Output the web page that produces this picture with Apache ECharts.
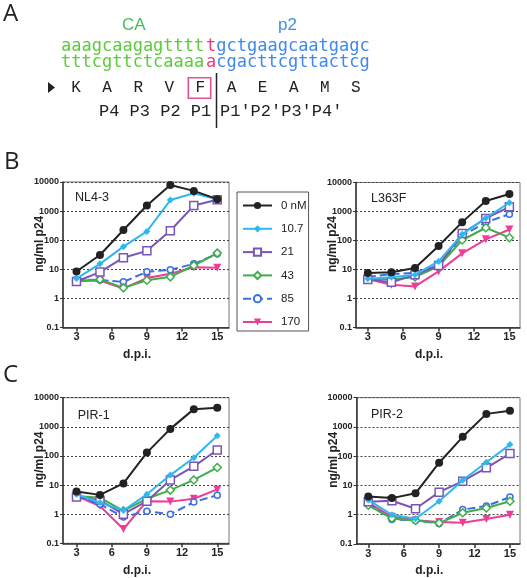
<!DOCTYPE html>
<html>
<head>
<meta charset="utf-8">
<script src="https://cdn.jsdelivr.net/npm/echarts@6/dist/echarts.min.js"></script>
<style>
html,body{margin:0;padding:0;background:#fff;}
#chart{width:527px;height:578px;}
</style>
</head>
<body>
<div id="chart"></div>
<script>
// ---- data ----
const days = [3, 5, 7, 9, 11, 13, 15];
const concLabels = ['0 nM', '10.7', '21', '43', '85', '170'];
const xTickValues = [3, 6, 9, 12, 15];
const panelNames = ['NL4-3', 'L363F', 'PIR-1', 'PIR-2'];

const nl43_0   = [8.4, 31, 224, 1550, 7900, 4950, 2570];
const nl43_10  = [4.8, 15.4, 60, 200, 2400, 4100, 2570];
const nl43_21  = [3.8, 8, 25, 43, 212, 1550, 2450];
const nl43_43  = [4.0, 4.5, 2.3, 4.2, 5.5, 13.5, 36];
const nl43_85  = [4.5, 4.3, 3.7, 8.2, 9.6, 15.4, 34];
const nl43_170 = [4.0, 4.1, 2.2, 5.0, 7.0, 11.8, 11.2];

const l363f_0   = [7.6, 8, 11.2, 65, 430, 2300, 4000];
const l363f_10  = [4.8, 5.4, 6.6, 19, 163, 600, 2000];
const l363f_21  = [4.5, 3.6, 6.6, 13.8, 175, 575, 1450];
const l363f_43  = [4.8, 4.5, 5.5, 12.8, 104, 275, 125];
const l363f_85  = [5.5, 7, 7.6, 13.8, 146, 420, 810];
const l363f_170 = [4.7, 3.0, 2.6, 8.6, 36, 110, 240];

const pir1_0   = [6, 4.6, 11.4, 130, 850, 4050, 4550];
const pir1_10  = [4.8, 2.5, 1.34, 4.8, 22, 87, 490];
const pir1_21  = [3.9, 3.0, 1.0, 2.8, 15, 44, 160];
const pir1_43  = [4.2, 3.7, 1.3, 3.4, 6.7, 15, 40];
const pir1_85  = [4.2, 2.2, 0.8, 1.27, 1.0, 2.6, 4.5];
const pir1_170 = [4.2, 1.9, 0.31, 2.8, 2.7, 3.4, 7.1];

const pir2_0   = [4.2, 3.7, 5.4, 60, 460, 2800, 3550];
const pir2_10  = [3.2, 1.0, 0.73, 2.9, 15, 62, 250];
const pir2_21  = [2.8, 3.0, 1.6, 5.9, 14, 40, 123];
const pir2_43  = [2.1, 0.75, 0.64, 0.52, 1.17, 1.7, 2.9];
const pir2_85  = [2.4, 0.69, 0.64, 0.5, 1.5, 2.0, 4.0];
const pir2_170 = [2.6, 0.85, 0.65, 0.56, 0.53, 0.72, 1.0];

const panelData = [
  [nl43_0, nl43_10, nl43_21, nl43_43, nl43_85, nl43_170],
  [l363f_0, l363f_10, l363f_21, l363f_43, l363f_85, l363f_170],
  [pir1_0, pir1_10, pir1_21, pir1_43, pir1_85, pir1_170],
  [pir2_0, pir2_10, pir2_21, pir2_43, pir2_85, pir2_170]
];

// ---- styles ----
const seriesStyle = [
  {color:'#222222', symbol:'circle', size:8, fill:'#222222', dash:'solid', rot:0},
  {color:'#2fb8ee', symbol:'diamond', size:7, fill:'#2fb8ee', dash:'solid', rot:0},
  {color:'#7a55b8', symbol:'rect', size:8, fill:'#ffffff', dash:'solid', rot:0},
  {color:'#3fae4a', symbol:'diamond', size:8, fill:'#ffffff', dash:'solid', rot:0},
  {color:'#3a6fe6', symbol:'circle', size:6, fill:'#ffffff', dash:'dashed', rot:0},
  {color:'#ee3d96', symbol:'triangle', size:8, fill:'#ee3d96', dash:'solid', rot:180}
];

const grids = [
  {left:63, top:182, width:166, height:145.5},
  {left:356, top:182.5, width:164, height:145},
  {left:63, top:397.7, width:166, height:145.6},
  {left:356.5, top:397.7, width:163.5, height:146.3}
];
const xRanges = [[1.85, 16], [2.0, 15.9], [1.85, 16], [2.0, 15.85]];
const titlePos = [[70, 194], [366, 194.7], [72.7, 412], [366, 411]];

const option = {
  animation:false,
  backgroundColor:'#fff',
  grid: grids.map(g => Object.assign({show:true, borderColor:'#777', borderWidth:1, containLabel:false}, g)),
  xAxis: grids.map((g,i) => ({
    type:'value', gridIndex:i, min:xRanges[i][0], max:xRanges[i][1],
    name:'d.p.i.', nameLocation:'middle', nameGap:21,
    nameTextStyle:{fontFamily:'Liberation Sans', fontWeight:'bold', fontSize:12, color:'#222', padding:[0,18,0,0]},
    axisLine:{show:true, onZero:false, lineStyle:{color:'#333', width:1.5}},
    axisTick:{show:true, length:4, customValues:xTickValues, lineStyle:{color:'#333', width:1.5}},
    axisLabel:{customValues:xTickValues, margin:4, fontFamily:'Liberation Sans', fontWeight:'bold', fontSize:11, color:'#222'},
    splitLine:{show:false}
  })),
  yAxis: grids.map((g,i) => ({
    type:'log', logBase:10, gridIndex:i, min:0.1, max:10000,
    name:'ng/ml p24', nameLocation:'middle', nameGap:17, nameMoveOverlap:false,
    nameTextStyle:{fontFamily:'Liberation Sans', fontWeight:'bold', fontSize:12, color:'#222', padding:[0,0,0,22]},
    axisLine:{show:true, lineStyle:{color:'#333', width:1.5}},
    axisTick:{show:true, length:3, lineStyle:{color:'#333', width:1}},
    axisLabel:{margin:4, fontFamily:'Liberation Sans', fontWeight:'bold', fontSize:9, color:'#222',
      formatter: v => v < 1 ? '0.1' : String(Math.round(v))},
    splitLine:{show:true, lineStyle:{type:[2,2], color:'#444', width:1}}
  })),
  title: panelNames.map((n,i) => ({
    text:n, left:titlePos[i][0], top:titlePos[i][1]-8,
    textStyle:{fontFamily:'Liberation Sans', fontWeight:'normal', fontSize:12.5, color:'#222'}
  })),
  legend: {
    orient:'vertical', left:237, top:192,
    data: concLabels,
    itemWidth:29, itemHeight:9, itemGap:11.3,
    padding:[7.5,2,3,5],
    borderColor:'#555', borderWidth:1,
    textStyle:{fontFamily:'Liberation Sans', fontSize:11.5, color:'#222', padding:[0,0,0,4]},
    selectedMode:false
  },
  series: [],
  graphic: []
};

for (let p = 0; p < panelData.length; p++) {
  for (let k = concLabels.length - 1; k >= 0; k--) {
    const st = seriesStyle[k];
    option.series.push({
      type:'line', name:concLabels[k], xAxisIndex:p, yAxisIndex:p,
      data: days.map((d, i) => [d, panelData[p][k][i]]),
      symbol: st.symbol, symbolSize: st.size, symbolRotate: st.rot,
      showAllSymbol:true,
      lineStyle:{color:st.color, width:2, type:st.dash},
      itemStyle:{color:st.fill, borderColor:st.color, borderWidth: st.fill === '#ffffff' ? 1.5 : 0},
      z: 10 - k
    });
  }
}

// ---- panel A (sequence diagram) ----
const seqTop_green = 'aaagcaagagtttt';
const seqTop_pink = 't';
const seqTop_blue = 'gctgaagcaatgagc';
const seqBot_green = 'tttcgttctcaaaa';
const seqBot_pink = 'a';
const seqBot_blue = 'cgacttcgttactcg';
const aminoAcids = ['K','A','R','V','F','A','E','A','M','S'];
const pLabelsLeft = "P4 P3 P2 P1";
const pLabelsRight = "P1'P2'P3'P4'";

const pitch = 10.35;
const seqX0 = 61;
const mono = {fontFamily:'DejaVu Sans Mono', fontSize:17};
const cGreen = '#5ccb3d', cBlue = '#3f88ee', cPink = '#e83c80';
function seqText(str, x, y, color) {
  return {type:'text', left:x, top:y, style:Object.assign({text:str, fill:color}, mono)};
}
const g = option.graphic;
g.push({type:'text', left:3, top:2, style:{text:'A', fill:'#222', fontFamily:'Open Sans', fontSize:24}});
g.push({type:'text', left:4, top:150, style:{text:'B', fill:'#222', fontFamily:'Open Sans', fontSize:24}});
g.push({type:'text', left:3, top:363, style:{text:'C', fill:'#222', fontFamily:'Open Sans', fontSize:24}});
g.push({type:'text', left:122, top:17, style:{text:'CA', fill:'#48bb58', fontFamily:'Liberation Sans', fontSize:17}});
g.push({type:'text', left:278, top:17, style:{text:'p2', fill:'#3f8fe8', fontFamily:'Liberation Sans', fontSize:17}});
g.push(seqText(seqTop_green, seqX0, 38, cGreen));
g.push(seqText(seqTop_pink, seqX0 + 14*pitch, 38, cPink));
g.push(seqText(seqTop_blue, seqX0 + 15*pitch, 38, cBlue));
g.push(seqText(seqBot_green, seqX0, 54, cGreen));
g.push(seqText(seqBot_pink, seqX0 + 14*pitch, 54, cPink));
g.push(seqText(seqBot_blue, seqX0 + 15*pitch, 54, cBlue));
aminoAcids.forEach((a, i) => {
  g.push({type:'text', x:76 + 31.1*i, y:88, style:{text:a, fill:'#222', fontFamily:'Liberation Mono', fontSize:16, align:'center', verticalAlign:'middle'}});
});
g.push({type:'polygon', shape:{points:[[48,82],[48,93],[55,87.5]]}, style:{fill:'#222'}});
g.push({type:'rect', shape:{x:188.3, y:77.7, width:22.4, height:20.6}, style:{fill:'none', stroke:'#e8508f', lineWidth:1.6}});
g.push({type:'line', shape:{x1:216.5, y1:73, x2:216.5, y2:128}, style:{stroke:'#222', lineWidth:1.5}});
g.push({type:'text', left:99, top:103, style:{text:pLabelsLeft, fill:'#222', fontFamily:'Liberation Mono', fontSize:17}});
g.push({type:'text', left:220, top:103, style:{text:pLabelsRight, fill:'#222', fontFamily:'Liberation Mono', fontSize:17}});

const chart = echarts.init(document.getElementById('chart'), null, {renderer:'canvas'});
chart.setOption(option);
</script>
</body>
</html>
